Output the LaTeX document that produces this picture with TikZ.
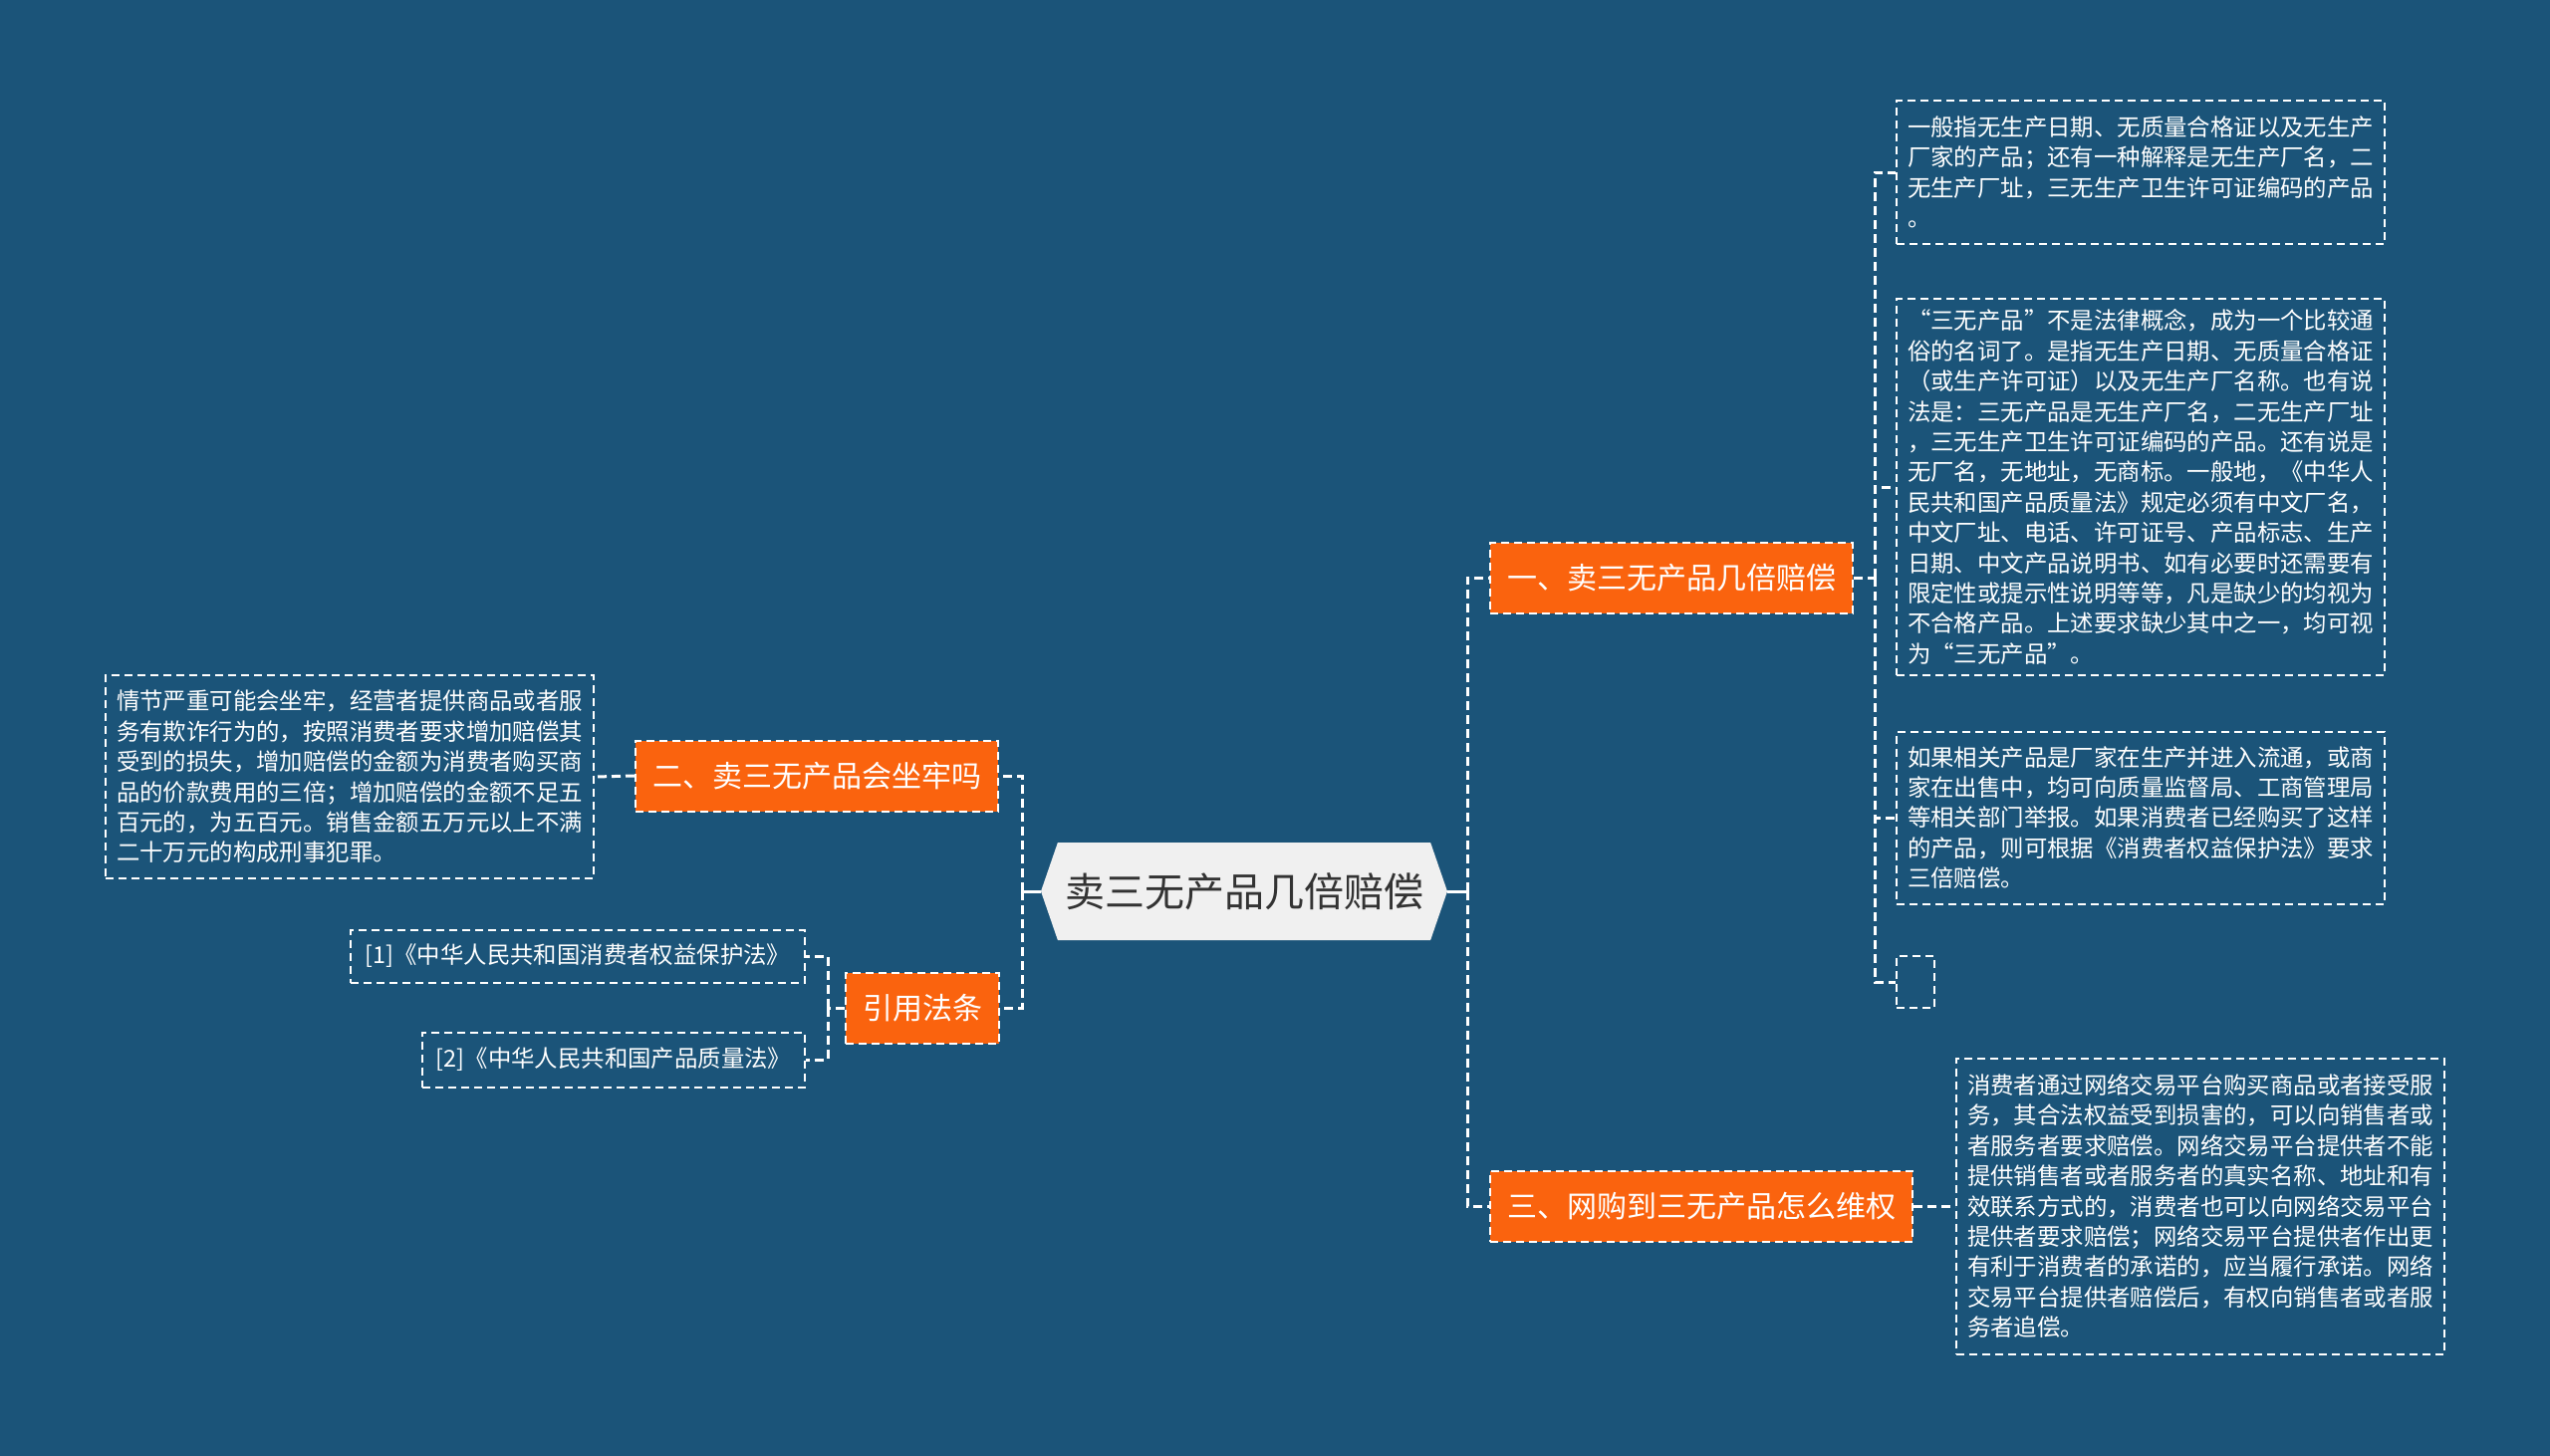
\documentclass[tikz,border=0pt]{standalone}
\usepackage{fontspec}
\setmainfont{Noto Sans CJK SC}
\usetikzlibrary{shapes.symbols}
\definecolor{bgblue}{RGB}{27,84,121}
\definecolor{branchorange}{RGB}{250,99,14}
\definecolor{rootgray}{RGB}{240,240,240}
\definecolor{roottext}{RGB}{51,51,51}

\begin{document}
\begin{tikzpicture}[x=1pt,y=-1pt,
  root/.style={signal, signal to=west and east, signal pointer angle=142,
    fill=rootgray, text=roottext, font=\fontsize{40}{48}\selectfont,
    minimum width=408pt, minimum height=98pt, inner xsep=5pt},
  branch/.style={fill=branchorange, draw=white, line width=2pt,
    dash pattern=on 8pt off 5pt, text=white, font=\fontsize{30}{36}\selectfont,
    inner xsep=17pt, inner ysep=0pt, minimum height=71pt},
  ref/.style={draw=white, line width=2pt, dash pattern=on 8pt off 5pt,
    text=white, font=\fontsize{23.4}{30.4}\selectfont, inner ysep=0pt},
  leaf/.style={ref, align=left, text width=468pt, inner xsep=11pt},
  link/.style={draw=white, line width=3pt, dash pattern=on 9pt off 5pt},
  stem/.style={draw=white, line width=3pt}]
  \fill[bgblue] (0,0) rectangle (2560,1462);
  \useasboundingbox (0,0) rectangle (2560,1462);

  % centre and main branches
  \node[root] (root) at (1249,895) {卖三无产品几倍赔偿};
  \node[branch, anchor=west] (b1) at (1495,580) {一、卖三无产品几倍赔偿};
  \node[branch, anchor=east] (b2) at (1003,779) {二、卖三无产品会坐牢吗};
  \node[branch, anchor=west] (b3) at (1495,1211) {三、网购到三无产品怎么维权};
  \node[branch, anchor=east] (b4) at (1004,1012) {引用法条};

  % leaves of b1
  \node[leaf, anchor=west, minimum height=144pt] (l1) at (1903,173)
    {一般指无生产日期、无质量合格证以及无生产\\厂家的产品；还有一种解释是无生产厂名，二\\无生产厂址，三无生产卫生许可证编码的产品\\。};
  \node[leaf, anchor=west, minimum height=378pt] (l2) at (1903,489)
    {“三无产品”不是法律概念，成为一个比较通\\俗的名词了。是指无生产日期、无质量合格证\\（或生产许可证）以及无生产厂名称。也有说\\法是：三无产品是无生产厂名，二无生产厂址\\，三无生产卫生许可证编码的产品。还有说是\\无厂名，无地址，无商标。一般地，《中华人\\民共和国产品质量法》规定必须有中文厂名，\\中文厂址、电话、许可证号、产品标志、生产\\日期、中文产品说明书、如有必要时还需要有\\限定性或提示性说明等等，凡是缺少的均视为\\不合格产品。上述要求缺少其中之一，均可视\\为“三无产品”。};
  \node[leaf, anchor=west, minimum height=173pt] (l3) at (1903,821)
    {如果相关产品是厂家在生产并进入流通，或商\\家在出售中，均可向质量监督局、工商管理局\\等相关部门举报。如果消费者已经购买了这样\\的产品，则可根据《消费者权益保护法》要求\\三倍赔偿。};
  \node[leaf, anchor=west, text width=16pt, minimum height=52pt] (l4) at (1903,986) {};

  % leaf of b3
  \node[leaf, anchor=west, minimum height=297pt] (l5) at (1963,1211)
    {消费者通过网络交易平台购买商品或者接受服\\务，其合法权益受到损害的，可以向销售者或\\者服务者要求赔偿。网络交易平台提供者不能\\提供销售者或者服务者的真实名称、地址和有\\效联系方式的，消费者也可以向网络交易平台\\提供者要求赔偿；网络交易平台提供者作出更\\有利于消费者的承诺的，应当履行承诺。网络\\交易平台提供者赔偿后，有权向销售者或者服\\务者追偿。};

  % leaf of b2
  \node[leaf, anchor=east, minimum height=204pt] (l6) at (597,780)
    {情节严重可能会坐牢，经营者提供商品或者服\\务有欺诈行为的，按照消费者要求增加赔偿其\\受到的损失，增加赔偿的金额为消费者购买商\\品的价款费用的三倍；增加赔偿的金额不足五\\百元的，为五百元。销售金额五万元以上不满\\二十万元的构成刑事犯罪。};

  % references of b4
  \node[ref, anchor=east, minimum width=456pt, minimum height=53pt] (r1) at (809,960)
    {[1]《中华人民共和国消费者权益保护法》};
  \node[ref, anchor=east, minimum width=384pt, minimum height=55pt] (r2) at (809,1064)
    {[2]《中华人民共和国产品质量法》};

  % connectors
  \coordinate (tl) at (1026,895);
  \coordinate (tr) at (1473,895);
  \coordinate (t1) at (1882,580);
  \coordinate (t4) at (831,1012);
  \draw[stem] (root.west) -- (tl);
  \draw[stem] (root.east) -- (tr);
  \draw[link] (tl) |- (b2.east);
  \draw[link] (tl) |- (b4.east);
  \draw[link] (tr) |- (b1.west);
  \draw[link] (tr) |- (b3.west);
  \draw[link] (b1.east) -- (t1);
  \draw[link] (t1) |- (l1.west);
  \draw[link] (t1) |- (l2.west);
  \draw[link] (t1) |- (l3.west);
  \draw[link] (t1) |- (l4.west);
  \draw[link] (b3.east) -- (l5.west);
  \draw[link] (b2.west) -- (l6.east);
  \draw[link] (b4.west) -- (t4);
  \draw[link] (t4) |- (r1.east);
  \draw[link] (t4) |- (r2.east);
\end{tikzpicture}
\end{document}
